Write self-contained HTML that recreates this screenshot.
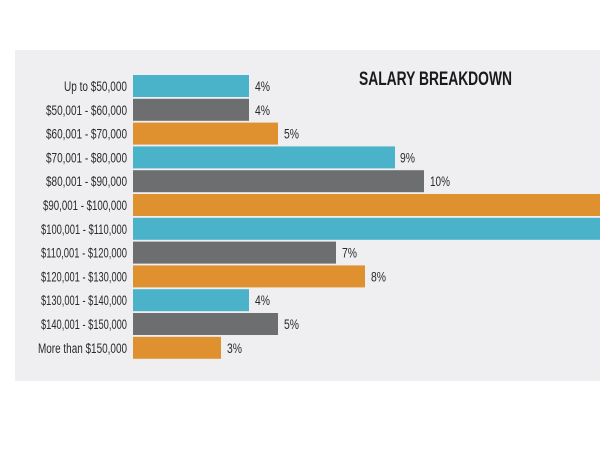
<!DOCTYPE html>
<html><head><style>
html,body{margin:0;padding:0;background:#fff;}
svg{display:block;}
</style></head><body>
<svg width="600" height="450" xmlns="http://www.w3.org/2000/svg" font-family="'Liberation Sans Narrow','Liberation Sans',sans-serif">
<rect x="15" y="50" width="585" height="331" fill="#efeff1"/>
<text x="359" y="85" font-size="19" font-weight="bold" fill="#1a1a1a" textLength="153" lengthAdjust="spacingAndGlyphs">SALARY BREAKDOWN</text>
<g font-size="13.5" fill="#2a2a2a">
<rect x="133" y="75" width="116" height="22" fill="#4bb3c9"/>
<text x="127" y="91" text-anchor="end" textLength="63" lengthAdjust="spacingAndGlyphs">Up to $50,000</text>
<text x="255" y="91" textLength="15" lengthAdjust="spacingAndGlyphs">4%</text>

<rect x="133" y="98.8" width="116" height="22" fill="#6d6e70"/>
<text x="127" y="114.8" text-anchor="end" textLength="81" lengthAdjust="spacingAndGlyphs">$50,001 - $60,000</text>
<text x="255" y="114.8" textLength="15" lengthAdjust="spacingAndGlyphs">4%</text>

<rect x="133" y="122.6" width="145" height="22" fill="#e0912f"/>
<text x="127" y="138.6" text-anchor="end" textLength="81" lengthAdjust="spacingAndGlyphs">$60,001 - $70,000</text>
<text x="284" y="138.6" textLength="15" lengthAdjust="spacingAndGlyphs">5%</text>

<rect x="133" y="146.4" width="262" height="22" fill="#4bb3c9"/>
<text x="127" y="162.4" text-anchor="end" textLength="81" lengthAdjust="spacingAndGlyphs">$70,001 - $80,000</text>
<text x="400" y="162.4" textLength="15" lengthAdjust="spacingAndGlyphs">9%</text>

<rect x="133" y="170.2" width="291" height="22" fill="#6d6e70"/>
<text x="127" y="186.2" text-anchor="end" textLength="81" lengthAdjust="spacingAndGlyphs">$80,001 - $90,000</text>
<text x="430" y="186.2" textLength="20" lengthAdjust="spacingAndGlyphs">10%</text>

<rect x="133" y="194" width="467" height="22" fill="#e0912f"/>
<text x="127" y="210" text-anchor="end" textLength="84" lengthAdjust="spacingAndGlyphs">$90,001 - $100,000</text>

<rect x="133" y="217.8" width="467" height="22" fill="#4bb3c9"/>
<text x="127" y="233.8" text-anchor="end" textLength="86" lengthAdjust="spacingAndGlyphs">$100,001 - $110,000</text>

<rect x="133" y="241.6" width="203" height="22" fill="#6d6e70"/>
<text x="127" y="257.6" text-anchor="end" textLength="86" lengthAdjust="spacingAndGlyphs">$110,001 - $120,000</text>
<text x="342" y="257.6" textLength="15" lengthAdjust="spacingAndGlyphs">7%</text>

<rect x="133" y="265.4" width="232" height="22" fill="#e0912f"/>
<text x="127" y="281.4" text-anchor="end" textLength="86" lengthAdjust="spacingAndGlyphs">$120,001 - $130,000</text>
<text x="371" y="281.4" textLength="15" lengthAdjust="spacingAndGlyphs">8%</text>

<rect x="133" y="289.2" width="116" height="22" fill="#4bb3c9"/>
<text x="127" y="305.2" text-anchor="end" textLength="86" lengthAdjust="spacingAndGlyphs">$130,001 - $140,000</text>
<text x="255" y="305.2" textLength="15" lengthAdjust="spacingAndGlyphs">4%</text>

<rect x="133" y="313" width="145" height="22" fill="#6d6e70"/>
<text x="127" y="329" text-anchor="end" textLength="86" lengthAdjust="spacingAndGlyphs">$140,001 - $150,000</text>
<text x="284" y="329" textLength="15" lengthAdjust="spacingAndGlyphs">5%</text>

<rect x="133" y="336.8" width="88" height="22" fill="#e0912f"/>
<text x="127" y="352.8" text-anchor="end" textLength="89" lengthAdjust="spacingAndGlyphs">More than $150,000</text>
<text x="227" y="352.8" textLength="15" lengthAdjust="spacingAndGlyphs">3%</text>
</g>
</svg>
</body></html>
